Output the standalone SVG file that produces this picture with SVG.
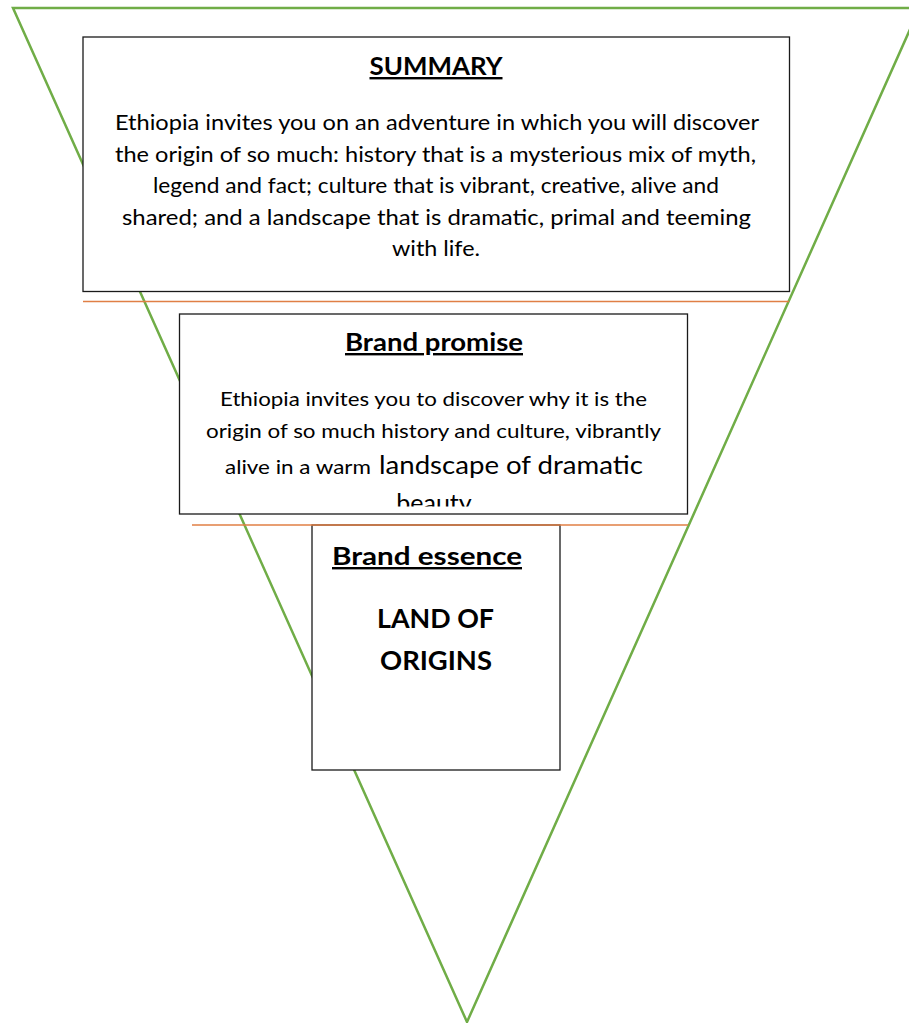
<svg xmlns="http://www.w3.org/2000/svg" width="909" height="1023" viewBox="0 0 909 1023">
<style>
.box{fill:#fff;stroke:#1a1a1a;stroke-width:1.3}
.tri{fill:none;stroke:#70AD47;stroke-width:2.5;stroke-linejoin:miter}
.sep{stroke:#E07F45;stroke-width:1.6}
.t{font-family:Lato,"Open Sans","Liberation Sans",sans-serif;fill:#000;text-anchor:middle}
.ttl{font-weight:bold;font-size:24px;text-decoration:underline}
.body{font-size:21.3px}
.pb{font-size:18.7px}
.big{font-weight:bold;font-size:26px}
</style>
<defs>
<clipPath id="clipPromise"><rect x="180" y="315" width="507" height="191.5"/></clipPath>
</defs>
<rect x="0" y="0" width="909" height="1023" fill="#fff"/>
<g id="connectors">
<polyline class="tri" points="918,8 13,8 467,1022 920,7"/>
</g>
<g id="summary">
<rect class="box" x="83" y="37" width="706.5" height="254.5"/>
<text class="t ttl" x="436" y="75" textLength="133" lengthAdjust="spacingAndGlyphs">SUMMARY</text>
<text class="t body" x="437" y="130" textLength="644" lengthAdjust="spacingAndGlyphs">Ethiopia invites you on an adventure in which you will discover</text>
<text class="t body" x="435.5" y="161.5" textLength="641" lengthAdjust="spacingAndGlyphs">the origin of so much: history that is a mysterious mix of myth,</text>
<text class="t body" x="436" y="193" textLength="566" lengthAdjust="spacingAndGlyphs">legend and fact; culture that is vibrant, creative, alive and</text>
<text class="t body" x="436.5" y="224.5" textLength="629" lengthAdjust="spacingAndGlyphs">shared; and a landscape that is dramatic, primal and teeming</text>
<text class="t body" x="436" y="256" textLength="88" lengthAdjust="spacingAndGlyphs">with life.</text>
</g>
<line id="sep1" class="sep" x1="83" y1="301.5" x2="789" y2="301.5"/>
<g id="promise">
<rect class="box" x="179.5" y="314" width="508" height="200"/>
<text class="t ttl" x="434" y="351" textLength="178" lengthAdjust="spacingAndGlyphs">Brand promise</text>
<g clip-path="url(#clipPromise)">
<text class="t pb" x="433.5" y="406" textLength="427" lengthAdjust="spacingAndGlyphs">Ethiopia invites you to discover why it is the</text>
<text class="t pb" x="433.5" y="438" textLength="455" lengthAdjust="spacingAndGlyphs">origin of so much history and culture, vibrantly</text>
<text class="t pb" x="225" y="474" style="text-anchor:start" textLength="146" lengthAdjust="spacingAndGlyphs">alive in a warm</text>
<text class="t" x="379" y="474" style="text-anchor:start;font-size:25px" textLength="264" lengthAdjust="spacingAndGlyphs">landscape of dramatic</text>
<text class="t" x="434" y="512" style="font-size:25px">beauty</text>
</g>
</g>
<g id="essence">
<rect class="box" x="312" y="525" width="248" height="245"/>
<text class="t ttl" x="427" y="565" textLength="190" lengthAdjust="spacingAndGlyphs">Brand essence</text>
<text class="t big" x="435.5" y="628" textLength="117" lengthAdjust="spacingAndGlyphs">LAND OF</text>
<text class="t big" x="436" y="670" textLength="112" lengthAdjust="spacingAndGlyphs">ORIGINS</text>
</g>
<line id="sep2" class="sep" x1="192" y1="525" x2="688" y2="525"/>
</svg>
